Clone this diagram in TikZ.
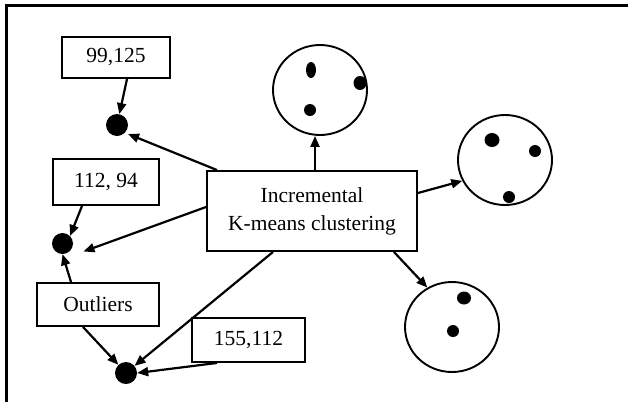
\documentclass[tikz,border=0pt]{standalone}
\usepackage{fontspec}
\setmainfont{Liberation Serif}
\usetikzlibrary{arrows.meta,shapes.geometric}
\begin{document}
\begin{tikzpicture}[x=1pt,y=-1pt,
  box/.style={draw,line width=1.9pt,rectangle,inner sep=0pt,font=\fontsize{21.5}{28}\selectfont},
  dot/.style={fill=black,circle,inner sep=0pt},
  clus/.style={draw,line width=1.9pt,ellipse,inner sep=0pt,minimum width=94pt,minimum height=90pt},
  pt/.style={fill=black,ellipse,inner sep=0pt},
  arr/.style={line width=2.2pt,-{Triangle[length=11pt,width=9pt]}}]
\useasboundingbox (0,0) rectangle (628,402);
\draw[line width=3pt] (6.5,402) -- (6.5,5) -- (628,5);
% boxes
\node[box,minimum width=108pt,minimum height=41pt] (b99) at (116,57.5) {99,125};
\node[box,minimum width=106pt,minimum height=46pt] (b112) at (106,182) {112, 94};
\node[box,minimum width=122pt,minimum height=43pt] (outl) at (98,304.5) {Outliers};
\node[box,minimum width=113pt,minimum height=44pt] (b155) at (248.5,340) {155,112};
\node[box,minimum width=210pt,minimum height=80pt,align=center] (main) at (312,211) {Incremental\\K-means clustering};
% outlier dots
\node[dot,minimum size=22pt] (d1) at (117,125) {};
\node[dot,minimum size=21pt] (d2) at (62.5,243.5) {};
\node[dot,minimum size=22pt] (d3) at (126,373) {};
% clusters
\node[clus] (c1) at (320,90) {};
\node[clus] (c2) at (505,160) {};
\node[clus] (c3) at (452,327) {};
\node[pt,minimum width=10pt,minimum height=16pt] (p11) at (311,70) {};
\node[pt,minimum width=13pt,minimum height=14pt] (p12) at (360,83) {};
\node[pt,minimum width=12pt,minimum height=12pt] (p13) at (310,110) {};
\node[pt,minimum width=15pt,minimum height=14pt] (p21) at (492,140) {};
\node[pt,minimum width=12pt,minimum height=12pt] (p22) at (535,151) {};
\node[pt,minimum width=12pt,minimum height=12pt] (p23) at (509,197) {};
\node[pt,minimum width=14pt,minimum height=13pt] (p31) at (464,298) {};
\node[pt,minimum width=12pt,minimum height=12pt] (p32) at (453,331) {};
% arrows
\draw[arr] ([xshift=11pt]b99.south) -- (d1);
\draw[arr] ([xshift=-95pt]main.north) -- ([shift={(11,9)}]d1.center);
\draw[arr] ([xshift=3pt]main.north) -- ([xshift=3pt]main.north |- c1.south);
\draw[arr] ([yshift=18pt]main.east) -- (c2.206);
\draw[arr] ([xshift=-24pt]main.south east) -- (c3.122);
\draw[arr] ([xshift=-24pt]b112.south) -- (d2.45);
\draw[arr] ([yshift=4pt]main.west) -- ([shift={(21,8)}]d2.center);
\draw[arr] ([xshift=-27pt]outl.north) -- (d2.south);
\draw[arr] ([xshift=-15pt]outl.south) -- (d3);
\draw[arr] ([xshift=-39pt]main.south) -- (d3.40);
\draw[arr] ([xshift=26pt]b155.south west) -- (d3.east);
\end{tikzpicture}
\end{document}
